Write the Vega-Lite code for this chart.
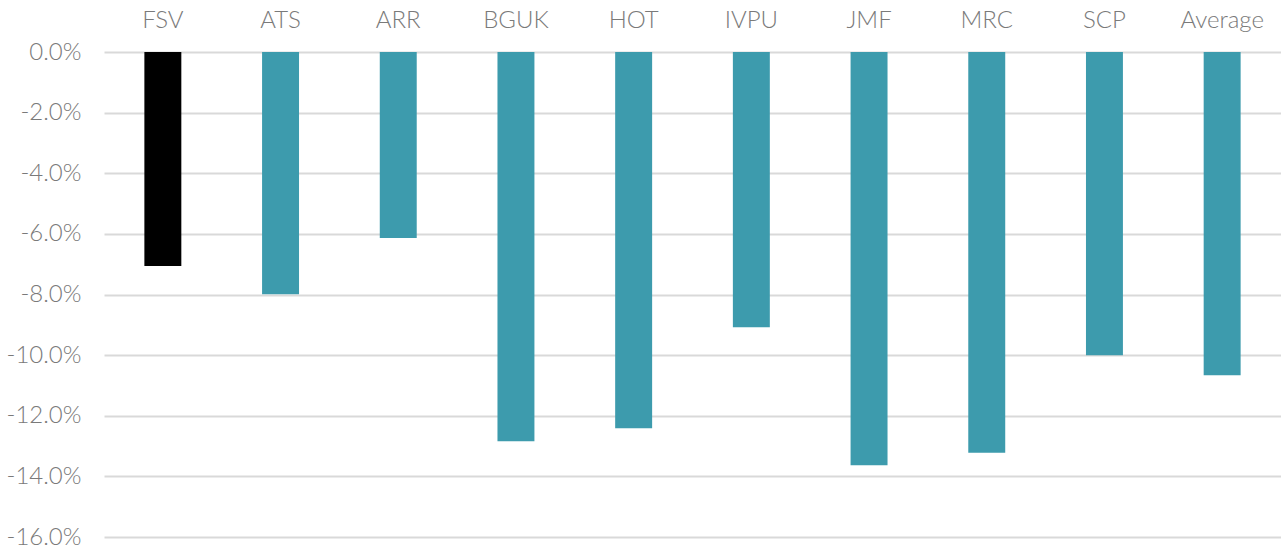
{
  "$schema": "https://vega.github.io/schema/vega-lite/v6.json",
  "width": 1177,
  "height": 485,
  "autosize": {"type": "none"},
  "padding": {"left": 104, "top": 52, "right": 0, "bottom": 14},
  "background": "white",
  "config": {
    "view": {"stroke": null},
    "font": "Lato",
    "axis": {"labelFont": "Lato", "labelFontWeight": 300, "labelColor": "#7a7a7a", "labelFontSize": 24}
  },
  "data": {
    "values": [
      {"company": "FSV", "change": -0.0706, "group": "FSV"},
      {"company": "ATS", "change": -0.0799, "group": "Peer"},
      {"company": "ARR", "change": -0.0614, "group": "Peer"},
      {"company": "BGUK", "change": -0.1284, "group": "Peer"},
      {"company": "HOT", "change": -0.1241, "group": "Peer"},
      {"company": "IVPU", "change": -0.0908, "group": "Peer"},
      {"company": "JMF", "change": -0.1363, "group": "Peer"},
      {"company": "MRC", "change": -0.1322, "group": "Peer"},
      {"company": "SCP", "change": -0.1000, "group": "Peer"},
      {"company": "Average", "change": -0.1066, "group": "Peer"}
    ]
  },
  "mark": {"type": "bar"},
  "encoding": {
    "x": {
      "field": "company",
      "type": "nominal",
      "sort": null,
      "scale": {"paddingInner": 0.686, "paddingOuter": 0.343},
      "axis": {"orient": "top", "title": null, "labelAngle": 0, "ticks": false, "domain": false, "labelPadding": 20}
    },
    "y": {
      "field": "change",
      "type": "quantitative",
      "scale": {"domain": [-0.16, 0], "nice": false},
      "axis": {
        "title": null,
        "values": [0, -0.02, -0.04, -0.06, -0.08, -0.1, -0.12, -0.14, -0.16],
        "labelExpr": "replace(format(datum.value, '.1%'), '\u2212', '-')",
        "ticks": false,
        "domain": false,
        "labelPadding": 23,
        "grid": true,
        "gridColor": "#d9d9d9",
        "gridWidth": 2
      }
    },
    "color": {
      "field": "group",
      "type": "nominal",
      "scale": {"domain": ["FSV", "Peer"], "range": ["#000000", "#3D9BAD"]},
      "legend": null
    }
  }
}
